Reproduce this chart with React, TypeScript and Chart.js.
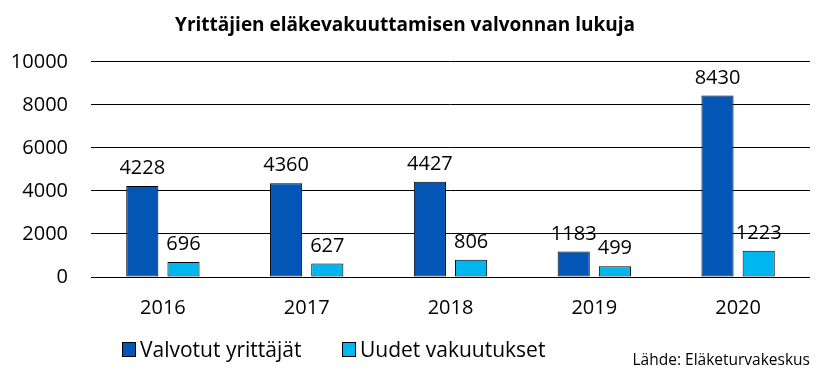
import React, { useEffect, useRef } from "react";
import { Chart, registerables } from "chart.js";

Chart.register(...registerables);

const TITLE = "Yrittäjien eläkevakuuttamisen valvonnan lukuja";
const SOURCE = "Lähde: Eläketurvakeskus";
const years = ["2016", "2017", "2018", "2019", "2020"];
const valvotut = [4228, 4360, 4427, 1183, 8430];
const uudet = [696, 627, 806, 499, 1223];
const seriesNames = ["Valvotut yrittäjät", "Uudet vakuutukset"];
const seriesColors = ["#0456B6", "#00B6F1"];

const FONT = "'Open Sans', 'Liberation Sans', sans-serif";

const valueLabels = {
  id: "valueLabels",
  afterDatasetsDraw(chart: any) {
    const ctx = chart.ctx;
    ctx.save();
    ctx.font = `20px ${FONT}`;
    ctx.fillStyle = "#000";
    ctx.textAlign = "center";
    ctx.textBaseline = "alphabetic";
    chart.data.datasets.forEach((ds: any, i: number) => {
      const meta = chart.getDatasetMeta(i);
      meta.data.forEach((bar: any, j: number) => {
        ctx.fillText(String(ds.data[j]), bar.x, bar.y - 12);
      });
    });
    ctx.restore();
  },
};

const customLegend = {
  id: "customLegend",
  afterDraw(chart: any) {
    const ctx = chart.ctx;
    ctx.save();
    const boxX = [122, 342];
    chart.data.datasets.forEach((ds: any, i: number) => {
      const x = boxX[i];
      ctx.fillStyle = ds.backgroundColor;
      ctx.fillRect(x, 342, 13, 14);
      ctx.strokeStyle = "#000";
      ctx.lineWidth = 1;
      ctx.strokeRect(x + 0.5, 342.5, 13, 14);
      ctx.fillStyle = "#000";
      ctx.font = `21px ${FONT}`;
      ctx.textAlign = "left";
      ctx.textBaseline = "alphabetic";
      ctx.fillText(ds.label, x + 18, 357);
    });
    ctx.font = `15.5px ${FONT}`;
    ctx.textAlign = "right";
    ctx.fillText(SOURCE, 810, 365);
    ctx.restore();
  },
};

export default function App() {
  const ref = useRef<HTMLCanvasElement>(null);
  useEffect(() => {
    if (!ref.current) return;
    const chart = new Chart(ref.current, {
      type: "bar",
      data: {
        labels: years,
        datasets: [
          {
            label: seriesNames[0],
            data: valvotut,
            backgroundColor: seriesColors[0],
            borderColor: "#000",
            borderWidth: 1,
            borderSkipped: false,
          },
          {
            label: seriesNames[1],
            data: uudet,
            backgroundColor: seriesColors[1],
            borderColor: "#000",
            borderWidth: 1,
            borderSkipped: false,
          },
        ],
      },
      options: {
        responsive: false,
        animation: false,
        devicePixelRatio: 1,
        layout: { padding: { left: 0, right: 11, top: 0, bottom: 43 } },
        datasets: {
          bar: { categoryPercentage: 0.573, barPercentage: 0.78 },
        },
        plugins: {
          legend: { display: false },
          tooltip: { enabled: false },
          title: {
            display: true,
            text: TITLE,
            color: "#000",
            font: { family: FONT, size: 19, weight: "bold" },
            padding: { top: 14, bottom: 25 },
          },
        },
        scales: {
          x: {
            grid: { display: false, drawTicks: false },
            border: { display: false },
            ticks: { color: "#000", font: { family: FONT, size: 20 }, padding: 19 },
          },
          y: {
            min: 0,
            max: 10000,
            afterFit(scale: any) {
              scale.width = 91;
            },
            grid: { color: "#000", lineWidth: 1, drawTicks: false },
            border: { display: false },
            ticks: {
              stepSize: 2000,
              color: "#000",
              font: { family: FONT, size: 20 },
              padding: 23,
              callback: (v: any) => String(v),
            },
          },
        },
      },
      plugins: [valueLabels, customLegend],
    });
    return () => chart.destroy();
  }, []);
  return (
    <div style={{ position: "fixed", left: 0, top: 0, width: 821, height: 382, background: "#fff" }}>
      <canvas ref={ref} width={821} height={382} />
    </div>
  );
}
